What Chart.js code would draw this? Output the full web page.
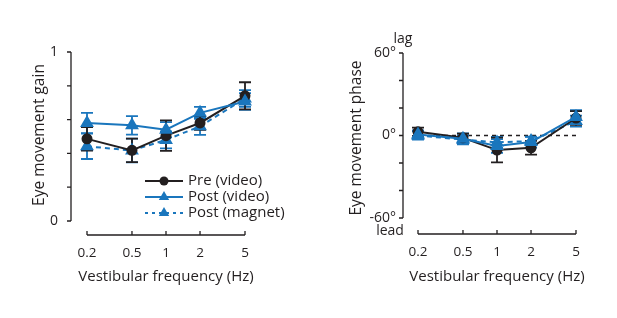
<!DOCTYPE html>
<html><head><meta charset="utf-8">
<script src="https://cdn.jsdelivr.net/npm/chart.js@4.4.1/dist/chart.umd.min.js"></script>
<style>
html,body{margin:0;padding:0;background:#fff;}
#wrap{position:relative;width:617px;height:318px;}
#c1{position:absolute;left:0;top:0;}
#c2{position:absolute;left:308px;top:0;}
</style></head>
<body><div id="wrap"><canvas id="c1" width="308" height="318"></canvas><canvas id="c2" width="309" height="318"></canvas></div>
<script>
// ---- data ----
const freqs = [0.2, 0.5, 1, 2, 5];
const freqTickLabels = ['0.2', '0.5', '1', '2', '5'];
const seriesNames = ['Pre (video)', 'Post (video)', 'Post (magnet)'];

const gainPre = [0.486, 0.418, 0.505, 0.58, 0.741];
const gainPreErr = [0.07, 0.07, 0.09, 0.04, 0.08];
const gainPostVideo = [0.58, 0.566, 0.54, 0.64, 0.707];
const gainPostVideoErr = [0.06, 0.055, 0.045, 0.035, 0.05];
const gainPostMagnet = [0.442, 0.417, 0.48, 0.56, 0.725];
const gainPostMagnetErr = [0.075, 0.07, 0.05, 0.05, 0.05];
const gainTicks = [0, 0.2, 0.4, 0.6, 0.8, 1];
const gainTickLabels = {0: '0', 1: '1'};

const phasePre = [2.7, -1.7, -10.6, -8.9, 12.7];
const phasePreErr = [3, 3, 9, 5, 5];
const phasePostVideo = [0.7, -2.4, -7.7, -4.8, 13.5];
const phasePostVideoErr = [3, 4, 5, 4, 5];
const phasePostMagnet = [0, -3, -5, -4, 10.5];
const phasePostMagnetErr = [3, 3, 4, 3, 4];
const phaseTicks = [-60, -40, -20, 0, 20, 40, 60];
const phaseTickLabels = {'-60': '-60°', '0': '0°', '60': '60°'};

// ---- styles ----
const BLACK = '#231f20';
const BLUE = '#1a76bd';
const FONT = '"Open Sans", sans-serif';

function pts(vals){ return freqs.map((f,i)=>({x:f, y:vals[i]})); }

function makeDatasets(pre, video, magnet){
  return [
    {label: seriesNames[0], data: pts(pre.v), err: pre.e, borderColor: BLACK, backgroundColor: BLACK,
     borderWidth: 2, pointStyle: 'circle', pointRadius: 4.5, order: 1, clip: false},
    {label: seriesNames[1], data: pts(video.v), err: video.e, borderColor: BLUE, backgroundColor: BLUE,
     borderWidth: 2, pointStyle: 'triangle', pointRadius: 6, order: 0, clip: false},
    {label: seriesNames[2], data: pts(magnet.v), err: magnet.e, borderColor: BLUE, backgroundColor: BLUE,
     borderWidth: 2, borderDash: [5, 4], pointStyle: 'triangle', pointRadius: 6, order: 2, clip: false}
  ];
}

const errorBarPlugin = {
  id: 'errbars',
  beforeDatasetsDraw(chart){
    const ctx = chart.ctx, xs = chart.scales.x, ys = chart.scales.y;
    const ds = chart.data.datasets;
    [2,1,0].forEach(di=>{
      const d = ds[di];
      ctx.save();
      ctx.strokeStyle = d.borderColor; ctx.lineWidth = 1.8;
      d.data.forEach((p,i)=>{
        const x = xs.getPixelForValue(p.x);
        const y1 = ys.getPixelForValue(p.y + d.err[i]);
        const y2 = ys.getPixelForValue(p.y - d.err[i]);
        ctx.beginPath();
        ctx.moveTo(x, y1); ctx.lineTo(x, y2);
        ctx.moveTo(x-6, y1); ctx.lineTo(x+6, y1);
        ctx.moveTo(x-6, y2); ctx.lineTo(x+6, y2);
        ctx.stroke();
      });
      ctx.restore();
    });
  }
};

function axesPlugin(cfg){
  return {
    id: 'axes',
    afterDraw(chart){
      const ctx = chart.ctx, xs = chart.scales.x, ys = chart.scales.y;
      const ca = chart.chartArea;
      ctx.save();
      ctx.strokeStyle = BLACK; ctx.fillStyle = BLACK; ctx.lineWidth = 1.3;
      // y axis
      const ax = ca.left - cfg.yOffset;
      const yTop = ys.getPixelForValue(ys.max), yBot = ys.getPixelForValue(ys.min);
      ctx.beginPath(); ctx.moveTo(ax, yTop); ctx.lineTo(ax, yBot);
      cfg.yTicks.forEach(t=>{ const y = ys.getPixelForValue(t); ctx.moveTo(ax-4, y); ctx.lineTo(ax, y); });
      ctx.stroke();
      ctx.font = '14px ' + FONT; ctx.textAlign = 'right'; ctx.textBaseline = 'middle';
      Object.keys(cfg.yLabels).forEach(k=>{
        ctx.fillText(cfg.yLabels[k], ax - cfg.yLabelPad, ys.getPixelForValue(Number(k)));
      });
      // x axis
      const ay = ca.bottom + cfg.xOffset;
      const xL = xs.getPixelForValue(xs.min), xR = xs.getPixelForValue(xs.max);
      ctx.beginPath(); ctx.moveTo(xL, ay); ctx.lineTo(xR, ay);
      freqs.forEach(f=>{ const x = xs.getPixelForValue(f); ctx.moveTo(x, ay); ctx.lineTo(x, ay-4); });
      ctx.stroke();
      ctx.font = '13.5px ' + FONT; ctx.textAlign = 'center'; ctx.textBaseline = 'middle';
      freqs.forEach((f,i)=>{ ctx.fillText(freqTickLabels[i], xs.getPixelForValue(f), ay + 18); });
      // titles
      ctx.font = '15px ' + FONT;
      ctx.fillText(cfg.xTitle, (xL + xR)/2 + cfg.xTitleShift, 277);
      ctx.save();
      ctx.translate(cfg.yTitleX, cfg.yTitleY); ctx.rotate(-Math.PI/2);
      ctx.font = '15.5px ' + FONT;
      ctx.fillText(cfg.yTitle, 0, 0);
      ctx.restore();
      if (cfg.extra) cfg.extra(ctx, chart);
      ctx.restore();
    }
  };
}

const legendPlugin = {
  id: 'customLegend',
  afterDraw(chart){
    const ctx = chart.ctx;
    const ds = chart.data.datasets;
    const x0 = 145, x1 = 183, tx = 188, ys = [181, 197, 213];
    ctx.save();
    ds.forEach((d,i)=>{
      const y = ys[i];
      ctx.strokeStyle = d.borderColor; ctx.fillStyle = d.borderColor; ctx.lineWidth = 2;
      ctx.setLineDash(d.borderDash ? [3, 4] : []);
      ctx.beginPath(); ctx.moveTo(x0, y); ctx.lineTo(x1, y); ctx.stroke();
      ctx.setLineDash([]);
      const cx = (x0 + x1)/2;
      ctx.beginPath();
      if (d.pointStyle === 'circle') { ctx.arc(cx, y, 4.5, 0, Math.PI*2); }
      else { const r = 6; ctx.moveTo(cx, y - r); ctx.lineTo(cx + r*0.866, y + r*0.5); ctx.lineTo(cx - r*0.866, y + r*0.5); ctx.closePath(); }
      ctx.fill();
      ctx.fillStyle = BLACK; ctx.font = '15px ' + FONT; ctx.textAlign = 'left'; ctx.textBaseline = 'middle';
      ctx.fillText(d.label, tx, y);
    });
    ctx.restore();
  }
};

function baseOptions(padding, ymin, ymax){
  return {
    responsive: false, animation: false, events: [],
    layout: {padding: padding},
    plugins: {legend: {display: false}, tooltip: {enabled: false}},
    scales: {
      x: {type: 'logarithmic', min: freqs[0], max: freqs[freqs.length-1], display: false},
      y: {type: 'linear', min: ymin, max: ymax, display: false}
    },
    elements: {line: {tension: 0}}
  };
}

new Chart(document.getElementById('c1'), {
  type: 'line',
  data: {datasets: makeDatasets({v: gainPre, e: gainPreErr}, {v: gainPostVideo, e: gainPostVideoErr}, {v: gainPostMagnet, e: gainPostMagnetErr})},
  options: baseOptions({left: 87, right: 63, top: 52, bottom: 97}, 0, 1),
  plugins: [errorBarPlugin, axesPlugin({yOffset: 16, xOffset: 14, yTicks: gainTicks, yLabels: gainTickLabels, yLabelPad: 13,
    xTitle: 'Vestibular frequency (Hz)', xTitleShift: 0, yTitle: 'Eye movement gain', yTitleX: 40, yTitleY: 135}), legendPlugin]
});

new Chart(document.getElementById('c2'), {
  type: 'line',
  data: {datasets: makeDatasets({v: phasePre, e: phasePreErr}, {v: phasePostVideo, e: phasePostVideoErr}, {v: phasePostMagnet, e: phasePostMagnetErr})},
  options: baseOptions({left: 110, right: 41, top: 53, bottom: 100}, -60, 60),
  plugins: [{
    id: 'zeroLine',
    beforeDatasetsDraw(chart){
      const ctx = chart.ctx, ys = chart.scales.y, ca = chart.chartArea;
      const y = ys.getPixelForValue(0);
      ctx.save(); ctx.strokeStyle = BLACK; ctx.lineWidth = 1.5; ctx.setLineDash([4, 4]);
      ctx.beginPath(); ctx.moveTo(ca.left + 2, y); ctx.lineTo(ca.right + 2, y); ctx.stroke(); ctx.restore();
    }
  }, errorBarPlugin, axesPlugin({yOffset: 15, xOffset: 16, yTicks: phaseTicks, yLabels: phaseTickLabels, yLabelPad: 7,
    xTitle: 'Vestibular frequency (Hz)', xTitleShift: 0, yTitle: 'Eye movement phase', yTitleX: 49, yTitleY: 138,
    extra(ctx, chart){
      const ca = chart.chartArea; const ax = ca.left - 15;
      ctx.font = '14px ' + FONT; ctx.textAlign = 'center'; ctx.textBaseline = 'middle';
      ctx.fillText('lag', ax, 39);
      ctx.fillText('lead', ax - 13, 231);
    }})]
});
</script>
</body></html>
